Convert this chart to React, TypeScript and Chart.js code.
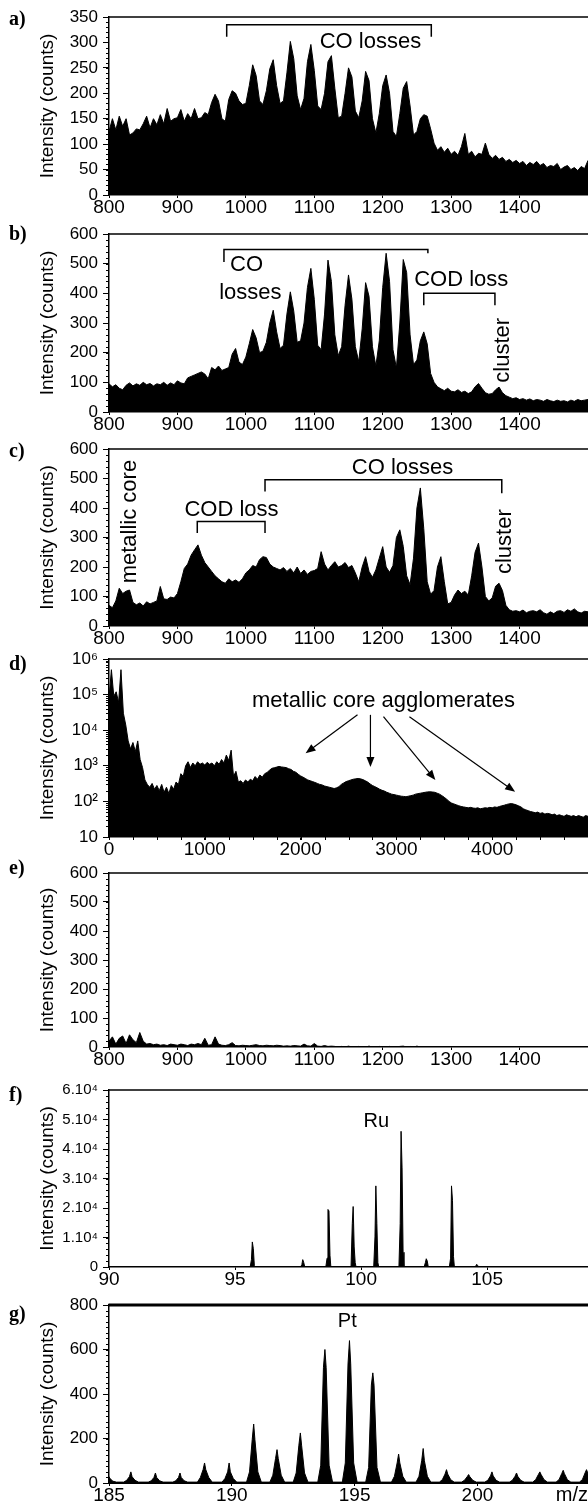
import { useEffect, useRef } from 'react';
import { Chart, registerables } from 'chart.js';

Chart.register(...registerables);

const SANS = '"Liberation Sans", Arial, Helvetica, sans-serif';
const SERIF = '"Liberation Serif", "Times New Roman", Times, serif';

// ---------------- data ----------------
// panels a, b, c, e : m/z 800 … 1500 sampled every 5
const spectrumStartMz = 800;
const spectrumStepMz = 5;

const panelAIntensity = [
  125, 150, 128, 155, 135, 150, 118, 122, 130, 128,
  140, 155, 132, 150, 138, 158, 140, 170, 145, 150,
  152, 168, 145, 160, 150, 170, 150, 152, 162, 158,
  182, 198, 185, 150, 145, 188, 205, 200, 185, 178,
  180, 215, 256, 235, 185, 178, 205, 248, 266, 215,
  180, 185, 240, 302, 268, 195, 168, 190, 262, 296,
  245, 175, 168, 200, 262, 274, 210, 152, 155, 200,
  250, 232, 165, 152, 185, 243, 225, 150, 122, 160,
  215, 236, 200, 125, 115, 160, 210, 223, 175, 118,
  125, 150, 158, 155, 130, 102, 88, 95, 84, 92,
  80, 86, 78, 95, 121, 80, 86, 75, 82, 80,
  102, 80, 72, 78, 70, 74, 66, 70, 64, 68,
  62, 66, 58, 64, 60, 66, 58, 62, 54, 58,
  56, 62, 50, 55, 58, 50, 54, 48, 56, 52,
  68,
];

const panelBIntensity = [
  95, 85, 92, 80, 75, 90, 98, 88, 95, 90,
  100, 92, 96, 88, 95, 92, 100, 90, 98, 92,
  105, 98, 95, 115, 120, 125, 130, 135, 128, 112,
  150, 142, 155, 140, 145, 150, 195, 214, 168, 160,
  185, 230, 278, 250, 200, 205, 235, 300, 343, 270,
  214, 225, 330, 405, 340, 235, 240, 300, 420, 484,
  380, 225, 210, 330, 512, 440, 260, 190, 220, 360,
  462, 380, 220, 170, 280, 436, 390, 220, 155, 240,
  420, 535, 440, 210, 148, 300, 514, 470, 260, 160,
  175, 240, 270, 230, 130, 100, 85, 78, 72, 80,
  70, 68, 75, 66, 70, 62, 68, 85, 96, 80,
  65, 60, 62, 75, 84, 65, 55, 50, 45, 48,
  42, 45, 40, 44, 38, 42, 40, 36, 42, 38,
  35, 40, 36, 38, 34, 40, 36, 42, 38, 40,
  42,
];

const panelCIntensity = [
  70, 62, 85, 128, 110, 118, 122, 80, 72, 78,
  68, 82, 75, 80, 85, 134, 92, 90, 98, 95,
  110, 150, 195, 210, 240, 258, 275, 240, 215, 200,
  185, 170, 160, 150, 145, 160, 150, 156, 148, 160,
  180, 190, 205, 200, 225, 235, 232, 210, 200, 195,
  190, 198, 185, 195, 180, 200, 178, 190, 175, 185,
  188, 195, 252, 210, 190, 205, 218, 200, 205, 215,
  198, 205, 180, 150, 200, 235, 185, 165, 190, 230,
  269, 200, 182, 205, 300, 326, 270, 170, 140, 230,
  400, 468, 330, 150, 108, 120, 200, 235, 150, 75,
  80, 105, 122, 110, 118, 105, 170, 250, 281, 200,
  100, 85, 95, 135, 145, 120, 70, 55, 50, 52,
  48, 54, 45, 50, 52, 48, 55, 45, 40, 48,
  42, 50, 52, 46, 55, 50, 58, 48, 44, 50,
  48,
];

const panelEIntensity = [
  20, 35, 10, 30, 38, 12, 42, 25, 15, 50,
  20, 10, 12, 8, 10, 6, 8, 5, 10, 8,
  6, 10, 8, 5, 10, 8, 12, 8, 30, 6,
  8, 35, 10, 6, 5, 8, 15, 5, 4, 6,
  5, 4, 6, 8, 5, 4, 6, 5, 4, 6,
  5, 3, 4, 3, 5, 4, 3, 10, 4, 3,
  12, 3, 2, 5, 2, 3, 2, 0, 2, 0,
  3, 0, 0, 2, 0, 0, 3, 0, 0, 2,
  0, 0, 2, 0, 0, 2, 3, 0, 2, 0,
  3, 0, 0, 0, 0, 0, 0, 0, 0, 0,
  0, 0, 0, 0, 0, 0, 0, 0, 0, 0,
  0, 0, 0, 0, 0, 0, 0, 0, 0, 0,
  0, 0, 0, 0, 0, 0, 0, 0, 0, 0,
  0, 0, 0, 0, 0, 0, 0, 0, 0, 0,
  0,
];

// panel d : m/z 0 … 5000 sampled every 25 (log intensity)
const panelDStartMz = 0;
const panelDStepMz = 25;
const panelDIntensity = [
  80000, 500000, 90000, 120000, 60000, 500000, 30000, 14000, 5000, 3000,
  4500, 2500, 5000, 1500, 900, 400, 300, 250, 320, 220,
  280, 200, 300, 180, 250, 166, 280, 220, 350, 300,
  600, 500, 1000, 1300, 900, 1200, 1000, 1300, 1100, 1200,
  1050, 1250, 1100, 1200, 1000, 1300, 1100, 1500, 1200, 2000,
  1400, 2750, 500, 700, 350, 380, 320, 400, 350, 420,
  380, 500, 420, 550, 480, 600, 650, 750, 850, 880,
  920, 960, 930, 910, 890, 830, 790, 700, 660, 580,
  520, 480, 440, 400, 380, 360, 340, 320, 300, 290,
  270, 260, 250, 240, 230, 240, 260, 300, 330, 360,
  380, 400, 420, 430, 440, 430, 410, 380, 350, 310,
  280, 260, 240, 220, 205, 195, 180, 170, 160, 155,
  150, 145, 140, 138, 135, 140, 145, 150, 160, 165,
  170, 175, 180, 185, 186, 184, 180, 170, 160, 145,
  130, 115, 100, 90, 85, 80, 76, 72, 70, 68,
  66, 68, 65, 64, 66, 62, 64, 66, 65, 68,
  66, 70, 68, 72, 75, 78, 82, 85, 87, 84,
  80, 75, 70, 62, 58, 55, 52, 50, 48, 50,
  46, 48, 44, 46, 45, 42, 44, 40, 42, 40,
  38, 42, 40, 38, 40, 37, 40, 38, 36, 40,
  38,
];

// panel f : Ru isotope peaks
const rutheniumMz = [95.7, 97.7, 98.7, 99.7, 100.6, 101.6, 102.6, 103.6, 104.6];
const rutheniumLeft = [2500, 800, 3000, 14700, 10200, 14700, 1500, 3000, 300];
const rutheniumTop = [8500, 2500, 19500, 20500, 27500, 46000, 2800, 27500, 900];
const rutheniumRight = [6200, 1500, 19000, 6800, 14700, 33600, 2000, 22600, 500];
const rutheniumTail = [500, 0, 4000, 1500, 1500, 5000, 0, 3500, 0];

// panel g : Pt isotope peaks
const platinumMz = [185.0, 185.9, 186.9, 187.9, 188.9, 189.9, 190.9, 191.85, 192.8, 193.8, 194.8,
  195.75, 196.8, 197.8, 198.75, 199.65, 200.6, 201.6, 202.55, 203.5, 204.45];
const platinumTop = [30, 50, 45, 45, 90, 90, 265, 150, 225, 600, 640, 495, 130, 155, 60, 38, 50, 45, 50, 57, 60];
const platinumBody = [20, 28, 25, 25, 60, 50, 195, 110, 170, 520, 535, 440, 90, 100, 40, 28, 32, 30, 38, 42, 45];
const platinumFoot = [8, 12, 10, 10, 25, 20, 50, 35, 45, 80, 90, 70, 30, 30, 15, 12, 12, 12, 15, 15, 15];

// tick labels
const spectrumXTicks = [800, 900, 1000, 1100, 1200, 1300, 1400];
const panelAYTicks = [0, 50, 100, 150, 200, 250, 300, 350];
const countYTicks600 = [0, 100, 200, 300, 400, 500, 600];
const panelDXTicks = [0, 1000, 2000, 3000, 4000];
const panelDYTicks = [10, 100, 1000, 10000, 100000, 1000000];
const panelFXTicks = [90, 95, 100, 105];
const panelFYTicks = [0, 10000, 20000, 30000, 40000, 50000, 60000];
const panelGXTicks = [185, 190, 195, 200];
const panelGYTicks = [0, 200, 400, 600, 800];

const yAxisTitle = 'Intensity (counts)';

// ---------------- helpers ----------------
type Pt = { x: number; y: number };
type Ann =
  | { kind: 'text'; x: number; y: number; text: string; align?: CanvasTextAlign; rotate?: boolean; size?: number }
  | { kind: 'bracket'; x1: number; x2: number; y: number; y1: number; y2: number }
  | { kind: 'arrow'; x1: number; y1: number; x2: number; y2: number };

type Panel = {
  key: string;
  label: string;
  labelDy: number;
  plotTop: number;
  plotBottom: number;
  points: Pt[];
  xMin: number;
  xMax: number;
  xTicks: number[];
  xMinorStep?: number;
  xTitle?: string;
  yLog?: boolean;
  yMin: number;
  yMax: number;
  yTicks: number[];
  yMinorStep?: number;
  yTickSize: number;
  yLabel: (v: number) => string;
  topLine: number;
  bottomLine: number;
  annotations: Ann[];
};

const sampled = (start: number, step: number, values: number[]): Pt[] =>
  values.map((y, i) => ({ x: start + i * step, y }));

function rutheniumPoints(): Pt[] {
  const offs = [-0.1, -0.05, -0.015, 0.025, 0.065, 0.1];
  const pts: Pt[] = [{ x: 90, y: 0 }];
  rutheniumMz.forEach((m, i) => {
    const vals = [0, rutheniumLeft[i], rutheniumTop[i], rutheniumRight[i], rutheniumTail[i], 0];
    vals.forEach((v, k) => pts.push({ x: m + offs[k], y: v }));
  });
  pts.push({ x: 109, y: 0 });
  return pts;
}

function platinumPoints(): Pt[] {
  const offs = [-0.3, -0.18, -0.07, -0.01, 0.04, 0.16, 0.3];
  const pts: Pt[] = [];
  platinumMz.forEach((m, i) => {
    const vals = [4, platinumFoot[i], platinumBody[i], platinumTop[i], platinumBody[i], platinumFoot[i], 4];
    vals.forEach((v, k) => pts.push({ x: m + offs[k], y: v }));
  });
  return pts;
}

const SUP = ['⁰', '¹', '²', '³', '⁴', '⁵', '⁶', '⁷', '⁸', '⁹'];
const plain = (v: number) => String(v);

const PANELS: Panel[] = [
  {
    key: 'a', label: 'a)', labelDy: 3, plotTop: 17, plotBottom: 195,
    points: sampled(spectrumStartMz, spectrumStepMz, panelAIntensity),
    xMin: 800, xMax: 1500, xTicks: spectrumXTicks,
    yMin: 0, yMax: 350, yTicks: panelAYTicks, yMinorStep: 10, yTickSize: 17, yLabel: plain,
    topLine: 1.5, bottomLine: 1.5,
    annotations: [
      { kind: 'bracket', x1: 972, x2: 1271, y: 335, y1: 311, y2: 311 },
      { kind: 'text', x: 1182, y: 300, text: 'CO losses' },
    ],
  },
  {
    key: 'b', label: 'b)', labelDy: 1, plotTop: 234, plotBottom: 412,
    points: sampled(spectrumStartMz, spectrumStepMz, panelBIntensity),
    xMin: 800, xMax: 1500, xTicks: spectrumXTicks,
    yMin: 0, yMax: 600, yTicks: countYTicks600, yMinorStep: 20, yTickSize: 17, yLabel: plain,
    topLine: 1.5, bottomLine: 1.5,
    annotations: [
      { kind: 'bracket', x1: 968, x2: 1266, y: 548, y1: 506, y2: 535 },
      { kind: 'text', x: 977, y: 495, text: 'CO', align: 'left' },
      { kind: 'text', x: 961, y: 400, text: 'losses', align: 'left' },
      { kind: 'text', x: 1246, y: 445, text: 'COD loss', align: 'left' },
      { kind: 'bracket', x1: 1260, x2: 1364, y: 400, y1: 360, y2: 360 },
      { kind: 'text', x: 1375, y: 208, text: 'cluster', rotate: true },
    ],
  },
  {
    key: 'c', label: 'c)', labelDy: 3, plotTop: 449, plotBottom: 626,
    points: sampled(spectrumStartMz, spectrumStepMz, panelCIntensity),
    xMin: 800, xMax: 1500, xTicks: spectrumXTicks,
    yMin: 0, yMax: 600, yTicks: countYTicks600, yMinorStep: 20, yTickSize: 17, yLabel: plain,
    topLine: 1.5, bottomLine: 1.5,
    annotations: [
      { kind: 'text', x: 830, y: 354, text: 'metallic core', rotate: true },
      { kind: 'text', x: 979, y: 394, text: 'COD loss' },
      { kind: 'bracket', x1: 929, x2: 1028, y: 354, y1: 315, y2: 315 },
      { kind: 'text', x: 1229, y: 535, text: 'CO losses' },
      { kind: 'bracket', x1: 1028, x2: 1374, y: 496, y1: 456, y2: 450 },
      { kind: 'text', x: 1378, y: 286, text: 'cluster', rotate: true },
    ],
  },
  {
    key: 'd', label: 'd)', labelDy: 6, plotTop: 659, plotBottom: 837,
    points: sampled(panelDStartMz, panelDStepMz, panelDIntensity),
    xMin: 0, xMax: 5000, xTicks: panelDXTicks, xMinorStep: 250,
    yLog: true, yMin: 10, yMax: 1000000, yTicks: panelDYTicks, yTickSize: 17,
    yLabel: (v) => {
      const e = Math.round(Math.log10(v));
      return e === 1 ? '10' : '10' + SUP[e];
    },
    topLine: 1.5, bottomLine: 1.5,
    annotations: [
      { kind: 'text', x: 2865, y: 64500, text: 'metallic core agglomerates' },
      { kind: 'arrow', x1: 2594, y1: 27000, x2: 2052, y2: 2240 },
      { kind: 'arrow', x1: 2729, y1: 27000, x2: 2729, y2: 930 },
      { kind: 'arrow', x1: 2865, y1: 24000, x2: 3407, y2: 400 },
      { kind: 'arrow', x1: 3136, y1: 24000, x2: 4239, y2: 186 },
    ],
  },
  {
    key: 'e', label: 'e)', labelDy: -4, plotTop: 873, plotBottom: 1047,
    points: sampled(spectrumStartMz, spectrumStepMz, panelEIntensity),
    xMin: 800, xMax: 1500, xTicks: spectrumXTicks,
    yMin: 0, yMax: 600, yTicks: countYTicks600, yMinorStep: 20, yTickSize: 17, yLabel: plain,
    topLine: 1.5, bottomLine: 1.5,
    annotations: [],
  },
  {
    key: 'f', label: 'f)', labelDy: 6, plotTop: 1090, plotBottom: 1267,
    points: rutheniumPoints(),
    xMin: 90, xMax: 109, xTicks: panelFXTicks,
    yMin: 0, yMax: 60000, yTicks: panelFYTicks, yMinorStep: 2000, yTickSize: 15,
    yLabel: (v) => (v === 0 ? '0' : `${v / 10000}.10⁴`),
    topLine: 1.5, bottomLine: 1.5,
    annotations: [{ kind: 'text', x: 100.6, y: 49240, text: 'Ru', size: 20 }],
  },
  {
    key: 'g', label: 'g)', labelDy: 10, plotTop: 1305, plotBottom: 1483,
    points: platinumPoints(),
    xMin: 185, xMax: 204.5, xTicks: panelGXTicks, xTitle: 'm/z',
    yMin: 0, yMax: 800, yTicks: panelGYTicks, yMinorStep: 25, yTickSize: 17, yLabel: plain,
    topLine: 3, bottomLine: 2,
    annotations: [{ kind: 'text', x: 194.7, y: 725, text: 'Pt', size: 20 }],
  },
];

const PAD_TOP = 22;
const X_AXIS_H = 24;
const Y_AXIS_W = 109;
const canvasTop = (p: Panel) => p.plotTop - PAD_TOP;
const canvasHeight = (p: Panel) => p.plotBottom - p.plotTop + PAD_TOP + X_AXIS_H;

function makeDecor(p: Panel) {
  return {
    id: 'decor',
    afterDraw(chart: any) {
      const { ctx, chartArea: ca } = chart;
      const xs = chart.scales.x;
      const ys = chart.scales.y;
      ctx.save();
      ctx.strokeStyle = '#000';
      ctx.fillStyle = '#000';

      // top frame
      ctx.lineWidth = p.topLine;
      ctx.beginPath();
      ctx.moveTo(ca.left - 0.5, ca.top);
      ctx.lineTo(ca.right + 2, ca.top);
      ctx.stroke();

      // minor y ticks
      const minors: number[] = [];
      if (p.yLog) {
        for (let e = 1; e < 6; e++) for (let k = 2; k <= 9; k++) minors.push(k * Math.pow(10, e));
      } else if (p.yMinorStep) {
        for (let v = p.yMin; v <= p.yMax + 1e-9; v += p.yMinorStep) minors.push(v);
      }
      ctx.lineWidth = 1;
      ctx.beginPath();
      minors.forEach((v) => {
        const py = Math.round(ys.getPixelForValue(v)) + 0.5;
        ctx.moveTo(ca.left - 3, py);
        ctx.lineTo(ca.left, py);
      });
      // minor x ticks
      if (p.xMinorStep) {
        for (let v = p.xMin; v <= p.xMax + 1e-9; v += p.xMinorStep) {
          const px = Math.round(xs.getPixelForValue(v)) + 0.5;
          ctx.moveTo(px, ca.bottom);
          ctx.lineTo(px, ca.bottom + 3);
        }
      }
      ctx.stroke();

      // annotations
      p.annotations.forEach((a) => {
        if (a.kind === 'text') {
          const px = xs.getPixelForValue(a.x);
          const py = ys.getPixelForValue(a.y);
          ctx.font = `${a.size ?? 22}px ${SANS}`;
          ctx.textBaseline = 'middle';
          if (a.rotate) {
            ctx.save();
            ctx.translate(px, py);
            ctx.rotate(-Math.PI / 2);
            ctx.textAlign = 'center';
            ctx.fillText(a.text, 0, 0);
            ctx.restore();
          } else {
            ctx.textAlign = a.align ?? 'center';
            ctx.fillText(a.text, px, py);
          }
        } else if (a.kind === 'bracket') {
          const x1 = xs.getPixelForValue(a.x1);
          const x2 = xs.getPixelForValue(a.x2);
          const y = ys.getPixelForValue(a.y);
          ctx.lineWidth = 1.5;
          ctx.beginPath();
          ctx.moveTo(x1, ys.getPixelForValue(a.y1));
          ctx.lineTo(x1, y);
          ctx.lineTo(x2, y);
          ctx.lineTo(x2, ys.getPixelForValue(a.y2));
          ctx.stroke();
        } else if (a.kind === 'arrow') {
          const x1 = xs.getPixelForValue(a.x1);
          const y1 = ys.getPixelForValue(a.y1);
          const x2 = xs.getPixelForValue(a.x2);
          const y2 = ys.getPixelForValue(a.y2);
          const ang = Math.atan2(y2 - y1, x2 - x1);
          const L = 10;
          const W = 4;
          ctx.lineWidth = 1.2;
          ctx.beginPath();
          ctx.moveTo(x1, y1);
          ctx.lineTo(x2 - Math.cos(ang) * L * 0.8, y2 - Math.sin(ang) * L * 0.8);
          ctx.stroke();
          ctx.beginPath();
          ctx.moveTo(x2, y2);
          ctx.lineTo(x2 - Math.cos(ang) * L - Math.sin(ang) * W, y2 - Math.sin(ang) * L + Math.cos(ang) * W);
          ctx.lineTo(x2 - Math.cos(ang) * L + Math.sin(ang) * W, y2 - Math.sin(ang) * L - Math.cos(ang) * W);
          ctx.closePath();
          ctx.fill();
        }
      });

      // panel letter
      ctx.font = `bold 20px ${SERIF}`;
      ctx.textBaseline = 'middle';
      ctx.textAlign = 'left';
      ctx.fillText(p.label, 9, ca.top + p.labelDy);
      ctx.restore();
    },
  };
}

function buildConfig(p: Panel): any {
  const xTicks = p.xTicks;
  const yTicks = p.yTicks;
  return {
    type: 'line',
    data: {
      datasets: [
        {
          data: p.points,
          borderColor: '#000',
          backgroundColor: '#000',
          borderWidth: 1,
          fill: 'start',
          pointRadius: 0,
          tension: 0,
        },
      ],
    },
    options: {
      animation: false,
      responsive: false,
      events: [],
      layout: { padding: { top: PAD_TOP, right: 0, bottom: 0, left: 0 } },
      plugins: { legend: { display: false }, tooltip: { enabled: false } },
      scales: {
        x: {
          type: 'linear',
          min: p.xMin,
          max: p.xMax,
          afterBuildTicks: (s: any) => {
            s.ticks = xTicks.map((v) => ({ value: v }));
          },
          afterFit: (s: any) => {
            s.height = X_AXIS_H;
          },
          ticks: {
            autoSkip: false,
            maxRotation: 0,
            color: '#000',
            padding: 0,
            font: { family: SANS, size: 19, lineHeight: 1.05 },
            callback: (v: number) => String(v),
          },
          grid: { display: true, drawOnChartArea: false, drawTicks: true, tickLength: 3, color: '#000', lineWidth: 1 },
          border: { display: true, color: '#000', width: p.bottomLine },
          title: p.xTitle
            ? { display: true, text: p.xTitle, align: 'end', color: '#000', font: { family: SANS, size: 20 }, padding: 0 }
            : { display: false },
        },
        y: {
          type: p.yLog ? 'logarithmic' : 'linear',
          min: p.yMin,
          max: p.yMax,
          afterBuildTicks: (s: any) => {
            s.ticks = yTicks.map((v) => ({ value: v }));
          },
          afterFit: (s: any) => {
            s.width = Y_AXIS_W;
          },
          ticks: {
            autoSkip: false,
            color: '#000',
            padding: 5,
            font: { family: SANS, size: p.yTickSize },
            callback: (v: number) => p.yLabel(Number(v)),
          },
          grid: { display: true, drawOnChartArea: false, drawTicks: true, tickLength: 6, color: '#000', lineWidth: 1 },
          border: { display: true, color: '#000', width: 1.5 },
          title: {
            display: true,
            text: yAxisTitle,
            color: '#000',
            font: { family: SANS, size: 19 },
            padding: { top: 36, bottom: 0 },
          },
        },
      },
    },
    plugins: [makeDecor(p)],
  };
}

export default function App() {
  const refs = useRef<(HTMLCanvasElement | null)[]>([]);

  useEffect(() => {
    const charts = PANELS.map((p, i) => {
      const c = refs.current[i];
      return c ? new Chart(c, buildConfig(p)) : null;
    });
    return () => {
      charts.forEach((ch) => ch && ch.destroy());
    };
  }, []);

  return (
    <div
      style={{
        position: 'absolute',
        left: 0,
        top: 0,
        width: 588,
        height: 1507,
        overflow: 'hidden',
        background: '#fff',
      }}
    >
      {PANELS.map((p, i) => (
        <canvas
          key={p.key}
          ref={(el) => {
            refs.current[i] = el;
          }}
          width={588}
          height={canvasHeight(p)}
          style={{ position: 'absolute', left: 0, top: canvasTop(p), width: 588, height: canvasHeight(p) }}
        />
      ))}
    </div>
  );
}
